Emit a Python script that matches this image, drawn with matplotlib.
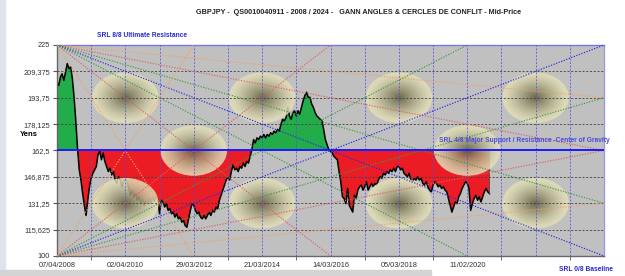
import numpy as np
import matplotlib
matplotlib.use("Agg")
import matplotlib.pyplot as plt
from matplotlib.patches import Ellipse, Rectangle
from matplotlib.colors import to_rgb

plt.rcParams["font.family"] = ["Liberation Sans", "DejaVu Sans"]

# GBPJPY mid-price, one value every 0.05 grid step, starting 07/04/2008
price = [
    203, 201, 206, 208, 204, 209, 214, 211, 212, 205, 194, 180, 164, 151, 145, 137, 130, 124, 133, 141,
    146, 149, 151, 153, 160, 162, 157, 161, 156, 153, 150, 152, 148, 150, 145, 143, 147, 145, 141, 144,
    146, 144, 140, 136, 139, 135, 137, 133, 135, 131, 134, 130, 133, 131, 134, 131, 135, 132, 136, 133,
    125, 133, 132, 129, 131, 127, 128, 125, 126, 123, 125, 122, 123, 120, 121, 118, 117, 122, 127, 131,
    130, 127, 125, 126, 123, 122, 124, 122, 124, 126, 124, 127, 126, 129, 128, 133, 136, 139, 142, 145,
    147, 145, 150, 154, 151, 152, 150, 153, 152, 155, 153, 156, 155, 159, 163, 169, 167, 170, 169, 171,
    170, 172, 170, 172, 171, 173, 172, 174, 173, 175, 174, 178, 181, 180, 182, 188, 183, 181, 185, 186,
    183, 186, 184, 188, 192, 195, 197, 194, 194, 190, 188, 185, 183, 182, 181, 180, 175, 169, 166, 163,
    162, 161, 159, 158, 157, 150, 144, 135, 134, 131, 140, 130, 128, 126, 136, 134, 139, 141, 142, 139,
    141, 144, 139, 141, 143, 141, 143, 142, 145, 147, 146, 149, 148, 150, 149, 151, 150, 152, 150, 153,
    153, 151, 152, 149, 148, 147, 149, 145, 144, 146, 145, 147, 145, 146, 143, 142, 144, 141, 139, 138,
    142, 144, 143, 141, 142, 140, 141, 139, 138, 134, 130, 126, 129, 132, 131, 135, 137, 140, 142, 144,
    143, 140, 127, 131, 134, 136, 133, 135, 132, 135, 138, 140, 138, 137,
]
x_step = 0.05

center = 162.5
y_levels = [100, 115.625, 131.25, 146.875, 162.5, 178.125, 193.75, 209.375, 225]
y_labels = ["100", "115,625", "131,25", "146,875", "162,5", "178,125", "193,75", "209,375", "225"]
date_pos = [0, 2, 4, 6, 8, 10, 12]
date_labels = ["07/04/2008", "02/04/2010", "29/03/2012", "21/03/2014",
               "14/03/2016", "05/03/2018", "11/02/2020"]
n_steps = 16

# gann fan end points, from the top-left and bottom-left corners
fan_end_x = [16, 16, 16, 16, 12, 8, 4]
fan_top_y = [193.75, 162.5, 131.25, 100, 100, 100, 100]
fan_bot_y = [131.25, 162.5, 193.75, 225, 225, 225, 225]
fan_colors = ["#f2a062", "#e06060", "#3c9c3c", "#2626e6", "#3c9c3c", "#e06060", "#f2a062"]

# cercles de conflit
circle_x = [2, 6, 10, 14, 4, 12, 2, 6, 10, 14]
circle_y = [193.75, 193.75, 193.75, 193.75, 162.5, 162.5, 131.25, 131.25, 131.25, 131.25]
circle_w, circle_h = 1.95, 30

fig = plt.figure(figsize=(6.25, 2.76), dpi=100)
fig.patch.set_facecolor("white")
fig.patches.append(Rectangle((0, 0), 0.008, 1, transform=fig.transFigure,
                             color="#dde4ee", zorder=0))
fig.patches.append(Rectangle((0, 0), 0.69, 0.022, transform=fig.transFigure,
                             color="#d4d4d4", zorder=0))
ax = fig.add_axes([0.0912, 0.0725, 0.8752, 0.7645])
ax.set_facecolor("#c0c0c0")

xs = np.arange(len(price)) * x_step
p = np.array(price, dtype=float)

# fills and price
ax.fill_between(xs, p, center, where=p >= center, interpolate=True,
                color="#22ac4a", lw=0, zorder=2)
ax.fill_between(xs, p, center, where=p <= center, interpolate=True,
                color="#ec1c24", lw=0, zorder=2)
ax.plot(xs, p, color="black", lw=1.1, zorder=2.5)
ax.plot([xs[-1], xs[-1]], [center + 1, p[-1]], color="#505050", lw=0.7, zorder=2.5)

# conflict circles: radial shading, clipped to an ellipse
pale = np.array(to_rgb("#e2deb8"))
dark = np.array(to_rgb("#5c5838"))
g = np.linspace(-1, 1, 90)
gx, gy = np.meshgrid(g, g)
r = np.sqrt(gx ** 2 + gy ** 2)
k = np.clip(1 - r / 0.95, 0, 1) ** 1.3
shade = pale * (1 - k)[..., None] + dark * k[..., None]
for cx, cy in zip(circle_x, circle_y):
    im = ax.imshow(shade, extent=(cx - circle_w / 2, cx + circle_w / 2,
                                  cy - circle_h / 2, cy + circle_h / 2),
                   origin="lower", aspect="auto", interpolation="bilinear",
                   alpha=0.85, zorder=3)
    im.set_clip_path(Ellipse((cx, cy), circle_w, circle_h, transform=ax.transData))

# grid
for lv in y_levels[1:-1]:
    if lv != center:
        ax.axhline(lv, color="#404040", lw=0.6, ls=(0, (2.5, 2)), zorder=4)
for u in range(1, n_steps):
    ax.axvline(u, color="#5050e6", lw=0.55, ls=(0, (2.5, 2)), zorder=4)

# gann fans
for ex, ty, by, c in zip(fan_end_x, fan_top_y, fan_bot_y, fan_colors):
    ax.plot([0, ex], [225, ty], color=c, lw=0.85, ls=(0, (1, 1.3)), zorder=5)
    ax.plot([0, ex], [100, by], color=c, lw=0.85, ls=(0, (1, 1.3)), zorder=5)

ax.axhline(center, color="#1a1aff", lw=1.4, zorder=6)

ax.set_xlim(0, n_steps)
ax.set_ylim(100, 225)
ax.set_yticks(y_levels)
ax.set_yticklabels(y_labels)
ax.set_xticks(date_pos)
ax.set_xticklabels(date_labels)
ax.set_xticks(range(1, n_steps, 2), minor=True)
ax.tick_params(axis="x", which="major", length=0, pad=4, labelsize=5.3, labelcolor="#333333")
ax.tick_params(axis="x", which="minor", length=3, color="#555555")
ax.tick_params(axis="y", length=3, color="#555555", pad=2, labelsize=5.3, labelcolor="#333333")
ax.spines["top"].set_color("#7a7ae6")
ax.spines["right"].set_color("#9a9ae6")
ax.spines["left"].set_color("#666666")
ax.spines["bottom"].set_color("#666677")
for s in ax.spines.values():
    s.set_linewidth(1.0)

ax.set_ylabel("Yens", rotation=0, fontsize=5.5, fontweight="bold")
ax.yaxis.set_label_coords(-0.052, 0.56)

fig.text(0.573, 0.956, "GBPJPY -  QS0010040911 - 2008 / 2024 -   GANN ANGLES & CERCLES DE CONFLIT - Mid-Price",
         ha="center", va="center", fontsize=5.25, fontweight="bold", color="#222222")
fig.text(0.155, 0.87, "SRL 8/8 Ultimate Resistance", ha="left", va="center",
         fontsize=4.8, fontweight="bold", color="#2a2acc")
fig.text(0.975, 0.492, "SRL 4/8 Major Support / Resistance -Center of Gravity", ha="right",
         va="center", fontsize=4.75, fontweight="bold", color="#4a4ae0")
fig.text(0.98, 0.025, "SRL 0/8 Baseline", ha="right", va="center",
         fontsize=4.8, fontweight="bold", color="#2a2acc")

fig.savefig("out.png", dpi=100)
